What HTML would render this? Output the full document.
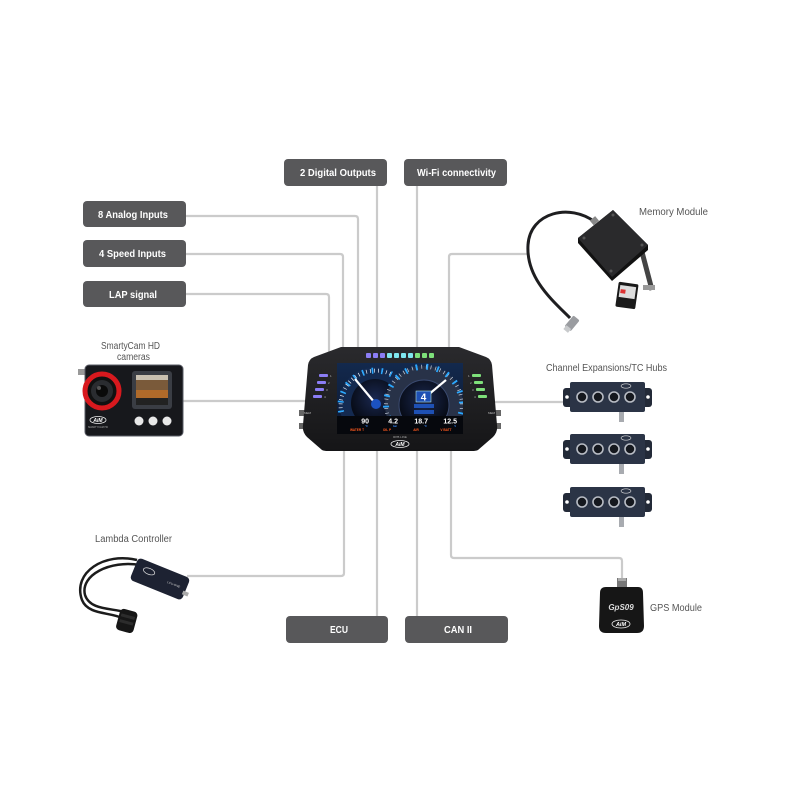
<!DOCTYPE html>
<html><head><meta charset="utf-8">
<style>
html,body{margin:0;padding:0;background:#fff;}
svg{display:block;}
.lb{font-family:"Liberation Sans",Arial,sans-serif;font-weight:bold;font-size:10.5px;fill:#fff;}
.gl{font-family:"Liberation Sans",Arial,sans-serif;font-size:10px;fill:#555;}
.tiny{font-family:"Liberation Sans",Arial,sans-serif;font-weight:bold;}
</style></head>
<body>
<svg width="800" height="800" viewBox="0 0 800 800" xmlns="http://www.w3.org/2000/svg">
<defs>
 <linearGradient id="scr" x1="0" y1="0" x2="0" y2="1">
  <stop offset="0" stop-color="#13294d"/><stop offset="1" stop-color="#0b1730"/>
 </linearGradient>
 <linearGradient id="dashg" x1="0" y1="0" x2="0" y2="1">
  <stop offset="0" stop-color="#2a2a2d"/><stop offset="1" stop-color="#151517"/>
 </linearGradient>
 <radialGradient id="inner" cx="0.5" cy="0.4" r="0.6">
  <stop offset="0" stop-color="#1a2850"/><stop offset="1" stop-color="#05080f"/>
 </radialGradient>
 <clipPath id="sc"><rect x="337" y="363" width="126" height="71"/></clipPath>
</defs>

<!-- connector lines -->
<g fill="none" stroke="#cbcbcb" stroke-width="2.2" stroke-linejoin="round">
 <path d="M186,216 H355 Q358,216 358,219 V380"/>
 <path d="M186,254 H340 Q343,254 343,257 V380"/>
 <path d="M186,294 H326 Q329,294 329,297 V380"/>
 <path d="M377,186 V380"/>
 <path d="M417,186 V380"/>
 <path d="M527,254 H452 Q449,254 449,257 V380"/>
 <path d="M183,401 H315"/>
 <path d="M485,402 H566"/>
 <path d="M187,576 H341 Q344,576 344,573 V420"/>
 <path d="M377,420 V616"/>
 <path d="M417,420 V616"/>
 <path d="M451,420 V555 Q451,558 454,558 H619 Q622,558 622,561 V580"/>
</g>

<!-- label boxes -->
<g fill="#58585a">
 <rect x="284" y="159" width="103" height="27" rx="4"/>
 <rect x="404" y="159" width="103" height="27" rx="4"/>
 <rect x="83" y="201" width="103" height="26" rx="4"/>
 <rect x="83" y="240" width="103" height="27" rx="4"/>
 <rect x="83" y="281" width="103" height="26" rx="4"/>
 <rect x="286" y="616" width="102" height="27" rx="4"/>
 <rect x="405" y="616" width="103" height="27" rx="4"/>
</g>
<text class="lb" x="300" y="176" textLength="76" lengthAdjust="spacingAndGlyphs">2 Digital Outputs</text>
<text class="lb" x="417" y="176" textLength="79" lengthAdjust="spacingAndGlyphs">Wi-Fi connectivity</text>
<text class="lb" x="98" y="218" textLength="70" lengthAdjust="spacingAndGlyphs">8 Analog Inputs</text>
<text class="lb" x="99" y="257" textLength="67" lengthAdjust="spacingAndGlyphs">4 Speed Inputs</text>
<text class="lb" x="109" y="298" textLength="48" lengthAdjust="spacingAndGlyphs">LAP signal</text>
<text class="lb" x="330" y="633" textLength="18" lengthAdjust="spacingAndGlyphs">ECU</text>
<text class="lb" x="444" y="633" textLength="28" lengthAdjust="spacingAndGlyphs">CAN II</text>

<!-- gray labels -->
<text class="gl" x="639" y="215" textLength="69" lengthAdjust="spacingAndGlyphs">Memory Module</text>
<text class="gl" x="546" y="371" textLength="121" lengthAdjust="spacingAndGlyphs">Channel Expansions/TC Hubs</text>
<text class="gl" x="650" y="611" textLength="52" lengthAdjust="spacingAndGlyphs">GPS Module</text>
<text class="gl" x="95" y="542" textLength="77" lengthAdjust="spacingAndGlyphs">Lambda Controller</text>
<text class="gl" x="101" y="349" textLength="59" lengthAdjust="spacingAndGlyphs">SmartyCam HD</text>
<text class="gl" x="117" y="360" textLength="33" lengthAdjust="spacingAndGlyphs">cameras</text>

<!-- DASH -->
<rect x="299" y="410" width="6" height="6" fill="#666"/>
<rect x="299" y="423" width="6" height="6" fill="#666"/>
<rect x="495" y="410" width="6" height="6" fill="#666"/>
<rect x="495" y="423" width="6" height="6" fill="#666"/>
<path d="M341,347 H459 L486,357 Q491,359 492,365 L497,425 Q498,432 493,437 L478,450 Q476,451 472,451 H328 Q324,451 322,450 L307,437 Q302,432 303,425 L308,365 Q309,359 314,357 Z" fill="url(#dashg)"/>
<!-- top LEDs -->
<g>
 <rect x="366" y="353" width="5" height="5" rx="1" fill="#8b7df5"/>
 <rect x="373" y="353" width="5" height="5" rx="1" fill="#8b7df5"/>
 <rect x="380" y="353" width="5" height="5" rx="1" fill="#8b7df5"/>
 <rect x="387" y="353" width="5" height="5" rx="1" fill="#7fe6ee"/>
 <rect x="394" y="353" width="5" height="5" rx="1" fill="#7fe6ee"/>
 <rect x="401" y="353" width="5" height="5" rx="1" fill="#7fe6ee"/>
 <rect x="408" y="353" width="5" height="5" rx="1" fill="#7fe6ee"/>
 <rect x="415" y="353" width="5" height="5" rx="1" fill="#7ee07a"/>
 <rect x="422" y="353" width="5" height="5" rx="1" fill="#7ee07a"/>
 <rect x="429" y="353" width="5" height="5" rx="1" fill="#7ee07a"/>
</g>
<!-- side LEDs -->
<g fill="#8b7df5">
 <rect x="319" y="374" width="9" height="3" rx="1"/>
 <rect x="317" y="381" width="9" height="3" rx="1"/>
 <rect x="315" y="388" width="9" height="3" rx="1"/>
 <rect x="313" y="395" width="9" height="3" rx="1"/>
</g>
<g fill="#7ee07a">
 <rect x="472" y="374" width="9" height="3" rx="1"/>
 <rect x="474" y="381" width="9" height="3" rx="1"/>
 <rect x="476" y="388" width="9" height="3" rx="1"/>
 <rect x="478" y="395" width="9" height="3" rx="1"/>
</g>
<g fill="#bbb" font-family="Liberation Sans,sans-serif" font-size="3">
 <text x="330" y="377">1</text><text x="328" y="384">2</text><text x="326" y="391">3</text><text x="324" y="398">4</text>
 <text x="468" y="377">1</text><text x="470" y="384">2</text><text x="472" y="391">3</text><text x="474" y="398">4</text>
 <text x="304" y="414">MEM</text><text x="488" y="414">MEM</text>
</g>

<!-- screen -->
<rect x="337" y="363" width="126" height="71" fill="url(#scr)"/>
<g clip-path="url(#sc)">
 <!-- left gauge -->
 <circle cx="375" cy="403" r="36" fill="#142a50"/>
 <path d="M341.2,412.1 A35,35 0 0 1 391.5,374.4" fill="none" stroke="#e8eef8" stroke-width="4" stroke-dasharray="0.7 3.3"/>
 <path d="M341.2,412.1 A35,35 0 0 1 391.5,374.4" fill="none" stroke="#2aa8ff" stroke-width="6" stroke-dasharray="1.6 8"/>
 <circle cx="375" cy="403" r="24" fill="url(#inner)"/>
 <line x1="375" y1="403" x2="355" y2="379" stroke="#fff" stroke-width="2.2"/>
 <circle cx="376" cy="404" r="5" fill="#1c52c0"/>
 <!-- right gauge -->
 <circle cx="424" cy="405" r="39" fill="#283248"/>
 <path d="M388.4,418 A38,38 0 1 1 459.6,418" fill="none" stroke="#c8d0de" stroke-width="4" stroke-dasharray="0.7 4"/>
 <path d="M388.4,418 A38,38 0 1 1 459.6,418" fill="none" stroke="#2aa8ff" stroke-width="6" stroke-dasharray="1.8 9"/>
 <circle cx="424" cy="405" r="25" fill="url(#inner)" stroke="#3a4a70" stroke-width="1"/>
 <line x1="428" y1="395" x2="446" y2="380" stroke="#fff" stroke-width="2.2"/>
 <rect x="416" y="391" width="15" height="11" fill="#1e50b4" stroke="#cfe" stroke-width="0.5"/>
 <text x="423.5" y="400.5" text-anchor="middle" class="tiny" font-size="10" fill="#fff">4</text>
 <rect x="414" y="404" width="20" height="4" fill="#1e50b4"/>
 <rect x="414" y="410" width="20" height="4" fill="#1e50b4"/>
 <!-- data bar -->
 <rect x="337" y="416" width="126" height="18" fill="#06080d"/>
 <g class="tiny" font-size="7" fill="#fff" text-anchor="end">
  <text x="369" y="423.5">90</text><text x="398" y="423.5">4.2</text><text x="428" y="423.5">18.7</text><text x="457" y="423.5">12.5</text>
 </g>
 <g class="tiny" font-size="2.5" fill="#3a8cff" text-anchor="end">
  <text x="368" y="427">°C</text><text x="397" y="427">bar</text><text x="427" y="427">°C</text><text x="456" y="427">V</text>
 </g>
 <g class="tiny" font-size="3.2" fill="#ff5a1e" text-anchor="middle">
  <text x="357" y="431">WATER T</text><text x="387" y="431">OIL P</text><text x="416" y="431">AIR</text><text x="446" y="431">V BATT</text>
 </g>
</g>
<text x="400" y="438" text-anchor="middle" font-family="Liberation Sans,sans-serif" font-size="3" fill="#aaa">RPB LINE</text>
<ellipse cx="400" cy="444" rx="9" ry="3.5" fill="none" stroke="#eee" stroke-width="0.8"/>
<text x="400" y="446" text-anchor="middle" class="tiny" font-style="italic" font-size="5" fill="#fff">AiM</text>

<!-- SMARTYCAM -->
<rect x="78" y="369" width="7" height="6" fill="#999"/>
<rect x="85" y="365" width="98" height="71" rx="4" fill="#17181c" stroke="#5a5c66" stroke-width="1"/>
<circle cx="102" cy="391" r="17" fill="#111" stroke="#d8191e" stroke-width="5"/>
<circle cx="102" cy="391" r="11" fill="#2a2c30"/>
<circle cx="102" cy="391" r="6" fill="#0a0a0a"/>
<circle cx="99" cy="388" r="2" fill="#555"/>
<rect x="132" y="371" width="40" height="38" rx="3" fill="#3a3d44"/>
<rect x="136" y="375" width="32" height="30" fill="#c9c0b0"/>
<rect x="136" y="380" width="32" height="14" fill="#7a5a3a"/>
<rect x="136" y="390" width="32" height="8" fill="#b06a2a"/>
<rect x="136" y="398" width="32" height="7" fill="#222"/>
<circle cx="139" cy="421" r="4.5" fill="#e8e8e8"/>
<circle cx="153" cy="421" r="4.5" fill="#e8e8e8"/>
<circle cx="167" cy="421" r="4.5" fill="#e8e8e8"/>
<ellipse cx="98" cy="420" rx="8" ry="3.5" fill="none" stroke="#eee" stroke-width="0.8"/>
<text x="98" y="422" text-anchor="middle" class="tiny" font-style="italic" font-size="5" fill="#fff">AiM</text>
<text x="98" y="428" text-anchor="middle" font-family="Liberation Sans,sans-serif" font-size="2.5" fill="#aaa">SMARTYCAM HD</text>

<!-- MEMORY MODULE -->
<path d="M595,222 C570,203 530,212 528,245 C526,278 552,300 570,318" fill="none" stroke="#1e1e20" stroke-width="3"/>
<g transform="translate(574,321) rotate(40)">
 <rect x="-4" y="-4" width="8" height="14" rx="1.5" fill="#9a9ca0"/>
 <rect x="-3" y="8" width="6" height="5" fill="#c8cacc"/>
</g>
<rect x="591" y="218" width="7" height="6" fill="#888" transform="rotate(-40 594 221)"/>
<path d="M642,252 L652,290" stroke="#444" stroke-width="5"/>
<rect x="643" y="285" width="12" height="5" fill="#999"/>
<path d="M578,238 L613,210 L648,245 L648,250 L612,281 L578,243 Z" fill="#111"/>
<path d="M578,238 L613,210 L648,245 L612,277 Z" fill="#2a2a2c"/>
<circle cx="613" cy="215" r="1.5" fill="#555"/><circle cx="642" cy="245" r="1.5" fill="#555"/>
<circle cx="584" cy="238" r="1.5" fill="#555"/><circle cx="611" cy="271" r="1.5" fill="#555"/>
<g transform="rotate(8 627 295)">
 <rect x="617" y="283" width="20" height="25" rx="1.5" fill="#1a1a1a"/>
 <rect x="619" y="286" width="16" height="12" fill="#ddd"/>
 <rect x="620" y="290" width="5" height="4" fill="#d33"/>
</g>

<!-- HUBS -->
<g id="hub">
 <rect x="563" y="388" width="89" height="19" rx="3" fill="#232a38"/>
 <circle cx="567" cy="397" r="1.8" fill="#fff"/><circle cx="648" cy="397" r="1.8" fill="#fff"/>
 <rect x="570" y="382" width="75" height="30" rx="2" fill="#2b3446"/>
 <rect x="619" y="412" width="5" height="10" fill="#a8abb0"/>
 <g fill="#15181e" stroke="#b8bcc4" stroke-width="1.6">
  <circle cx="582" cy="397" r="5"/><circle cx="598" cy="397" r="5"/><circle cx="614" cy="397" r="5"/><circle cx="630" cy="397" r="5"/>
 </g>
 <ellipse cx="626" cy="386" rx="5" ry="2.2" fill="none" stroke="#ddd" stroke-width="0.6"/>
</g>
<use href="#hub" y="52"/>
<use href="#hub" y="105"/>

<!-- GPS -->
<rect x="617" y="578" width="10" height="10" fill="#777"/>
<rect x="618" y="578" width="8" height="3" fill="#aaa"/>
<path d="M606,587 H638 Q643,587 643,593 L644,626 Q644,633 637,633 H606 Q599,633 599,626 L600,593 Q600,587 606,587 Z" fill="#161616"/>
<text x="621" y="610" text-anchor="middle" class="tiny" font-style="italic" font-size="8" fill="#ddd">GpS09</text>
<ellipse cx="621" cy="624" rx="9" ry="4" fill="none" stroke="#eee" stroke-width="0.8"/>
<text x="621" y="626" text-anchor="middle" class="tiny" font-style="italic" font-size="5.5" fill="#fff">AiM</text>

<!-- LAMBDA -->
<path d="M140,565 C110,560 80,575 85,595 C90,610 110,608 125,612" fill="none" stroke="#1c1c1c" stroke-width="2.5"/>
<path d="M137,560 C105,552 72,572 82,600 C88,615 110,612 122,618" fill="none" stroke="#1c1c1c" stroke-width="2.5"/>
<g transform="translate(160,579) rotate(22)">
 <rect x="-28" y="-12" width="56" height="24" rx="4" fill="#1d2232"/>
 <ellipse cx="-13" cy="-3" rx="6" ry="3" fill="none" stroke="#ddd" stroke-width="0.7"/>
 <text x="8" y="1" font-family="Liberation Sans,sans-serif" font-size="3" fill="#ccc">LCU-ONE</text>
 <rect x="26" y="2" width="6" height="4" fill="#aaa"/>
</g>
<g transform="rotate(15 127 620)">
 <rect x="118" y="610" width="18" height="22" rx="4" fill="#161616"/>
 <rect x="120" y="615" width="14" height="3" fill="#2c2c2c"/>
 <rect x="120" y="621" width="14" height="3" fill="#2c2c2c"/>
</g>
</svg>
</body></html>
